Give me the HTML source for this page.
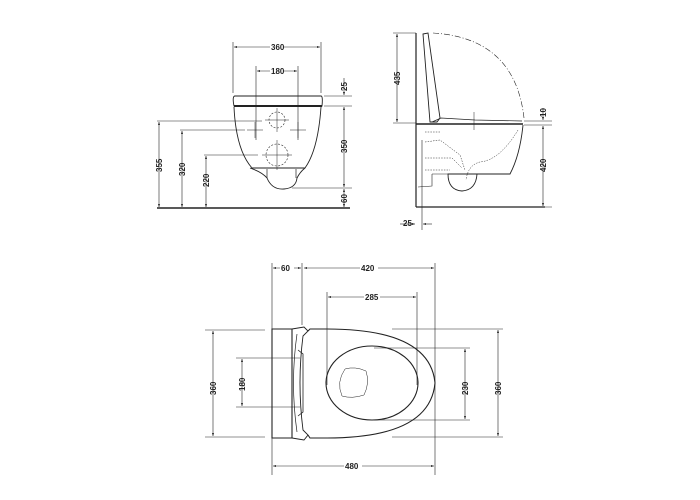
<!DOCTYPE html>
<html><head><meta charset="utf-8"><style>
html,body{margin:0;padding:0;background:#fff;}
svg{display:block}
text{font-family:"Liberation Sans",sans-serif;font-size:8px;fill:#222;font-weight:bold;}
</style></head><body>
<svg width="700" height="500" viewBox="0 0 700 500" xmlns="http://www.w3.org/2000/svg">
<defs>
<marker id="a" viewBox="0 0 10 10" refX="10" refY="5" markerWidth="5" markerHeight="5" orient="auto-start-reverse"><path d="M0,1.5 L10,5 L0,8.5z" fill="#222"/></marker>
</defs>
<g stroke="#222" fill="none" stroke-width="0.6">
<line x1="233" y1="42" x2="233" y2="93"/><line x1="321" y1="42" x2="321" y2="93"/>
<line x1="234" y1="47" x2="320" y2="47" marker-start="url(#a)" marker-end="url(#a)"/>
<line x1="256" y1="66" x2="256" y2="140"/><line x1="298" y1="66" x2="298" y2="140"/>
<line x1="257" y1="71" x2="297" y2="71" marker-start="url(#a)" marker-end="url(#a)"/>
<path d="M235,96 L321,96 Q323,96 322,106 L234,106 Q232,96 235,96z" stroke-width="0.9"/>
<line x1="234" y1="106" x2="322" y2="106" stroke-width="2"/>
<path d="M234,107 Q236,150 252,168 L305,168 Q318,150 321,107" stroke-width="0.9"/>
<path d="M250,168 Q262,172 267,178 Q272,190 284,189 Q296,188 297,178 Q300,172 305,168" stroke-width="0.9"/>
<path d="M267,169 L267,178 M296,169 L296,178" stroke-width="0.7"/>
<line x1="324" y1="96" x2="352" y2="96"/><line x1="324" y1="106" x2="352" y2="106"/>
<line x1="292" y1="188" x2="352" y2="188"/>
<line x1="344" y1="78" x2="344" y2="95" marker-end="url(#a)"/>
<line x1="344" y1="107" x2="344" y2="187" marker-start="url(#a)" marker-end="url(#a)"/>
<line x1="344" y1="189" x2="344" y2="207" marker-start="url(#a)" marker-end="url(#a)"/>
<line x1="157" y1="208" x2="350" y2="208" stroke-width="1.6"/>
<line x1="157" y1="121" x2="262" y2="121"/><line x1="180" y1="130" x2="245" y2="130"/><line x1="204" y1="155" x2="258" y2="155"/>
<line x1="159" y1="122" x2="159" y2="207" marker-start="url(#a)" marker-end="url(#a)"/>
<line x1="182" y1="131" x2="182" y2="207" marker-start="url(#a)" marker-end="url(#a)"/>
<line x1="206" y1="156" x2="206" y2="207" marker-start="url(#a)" marker-end="url(#a)"/>
<g stroke-dasharray="2,1.5"><circle cx="277" cy="120" r="8"/><circle cx="277" cy="155" r="11"/></g>
<path d="M265,120 H289 M277,108 V132 M262,155 H292 M277,140 V170 M247,130 H263 M255,122 V138 M290,130 H306 M298,122 V138" stroke-width="0.5"/>
<line x1="416" y1="33" x2="416" y2="207" stroke-width="1.2"/>
<line x1="416" y1="207" x2="545" y2="207" stroke-width="1.2"/>
<line x1="393" y1="33" x2="416" y2="33"/><line x1="393" y1="123" x2="416" y2="123"/>
<line x1="397" y1="34" x2="397" y2="122" marker-start="url(#a)" marker-end="url(#a)"/>
<path d="M423,34 L428,33 L440,118 L437,122 L430,122z" stroke-width="0.9"/>
<path d="M432,122 L441,118 L475,120 L522,121" stroke-width="0.7"/>
<path d="M433,33 Q515,38 524,118" stroke-dasharray="6,2,1,2"/>
<line x1="416" y1="124" x2="523" y2="124" stroke-width="1.6"/>
<path d="M523,125 Q520,155 510,174 L448,174 Q448,190 462,191 Q476,190 477,174" stroke-width="0.9"/>
<path d="M432,174 L448,174 M432,174 L432,186 L418,187"/>
<path d="M425,132 L440,132 M425,142 L440,140 L460,155 L465,170 M425,158 L452,158 L462,168 M425,170 L450,170 M518,130 Q500,160 480,162 Q468,165 466,180" stroke-dasharray="1.5,1.2" stroke-width="0.5"/>
<line x1="474" y1="112" x2="474" y2="130" stroke-width="0.5"/>
<line x1="524" y1="121" x2="552" y2="121"/><line x1="524" y1="125" x2="552" y2="125"/><line x1="520" y1="207" x2="552" y2="207"/>
<line x1="543" y1="108" x2="543" y2="120" marker-end="url(#a)"/>
<line x1="543" y1="126" x2="543" y2="206" marker-start="url(#a)" marker-end="url(#a)"/>
<line x1="422" y1="140" x2="422" y2="230"/>
<line x1="400" y1="224" x2="415" y2="224" marker-end="url(#a)"/><line x1="432" y1="224" x2="423" y2="224" marker-end="url(#a)"/>
<line x1="272" y1="263" x2="272" y2="475"/><line x1="302" y1="263" x2="302" y2="325"/><line x1="435" y1="263" x2="435" y2="475"/>
<line x1="273" y1="268" x2="301" y2="268" marker-start="url(#a)" marker-end="url(#a)"/>
<line x1="304" y1="268" x2="434" y2="268" marker-start="url(#a)" marker-end="url(#a)"/>
<line x1="327" y1="292" x2="327" y2="385"/><line x1="417" y1="292" x2="417" y2="385"/>
<line x1="328" y1="297" x2="416" y2="297" marker-start="url(#a)" marker-end="url(#a)"/>
<line x1="273" y1="466" x2="434" y2="466" marker-start="url(#a)" marker-end="url(#a)"/>
<path d="M272,329 L292,329 L292,438 L272,438z" stroke-width="1.1"/>
<path d="M292,329 L304,327 L308,331 L303,336 Q297,383 303,430 L308,435 L304,440 L292,438" stroke-width="0.9"/>
<path d="M297,334 Q290,383 297,432" stroke-width="0.7"/>
<path d="M298,350 L303,354 L303,412 L298,416" stroke-width="0.8"/>
<path d="M308,331 L310,329 L327,329 Q430,329 435,383 Q430,438 327,438 L310,438 L308,435" stroke-width="1.1"/>
<ellipse cx="372" cy="383" rx="46" ry="37" stroke-width="1.1"/>
<path d="M345,369 Q355,366 366,371 Q370,383 364,395 Q352,399 342,396 Q336,382 345,369z" stroke-width="0.5"/>
<line x1="205" y1="330" x2="265" y2="330"/><line x1="205" y1="437" x2="265" y2="437"/>
<line x1="213" y1="331" x2="213" y2="436" marker-start="url(#a)" marker-end="url(#a)"/>
<line x1="236" y1="358" x2="300" y2="358"/><line x1="236" y1="407" x2="300" y2="407"/>
<line x1="242" y1="359" x2="242" y2="406" marker-start="url(#a)" marker-end="url(#a)"/>
<line x1="374" y1="348" x2="470" y2="348"/><line x1="374" y1="420" x2="470" y2="420"/>
<line x1="465" y1="349" x2="465" y2="419" marker-start="url(#a)" marker-end="url(#a)"/>
<line x1="392" y1="329" x2="503" y2="329"/><line x1="392" y1="437" x2="503" y2="437"/>
<line x1="498" y1="330" x2="498" y2="436" marker-start="url(#a)" marker-end="url(#a)"/>
</g>
<g stroke="none">
<rect x="270" y="43" width="14" height="8" fill="#fff"/><text x="271" y="50" font-size="6">360</text>
<rect x="270" y="67" width="14" height="8" fill="#fff"/><text x="271" y="74" font-size="6">180</text>
<g font-size="6">
<text transform="translate(347,91) rotate(-90)">25</text>
<text transform="translate(347,153) rotate(-90)">350</text>
<text transform="translate(347,203) rotate(-90)">60</text>
<text transform="translate(162,172) rotate(-90)">355</text>
<text transform="translate(185,176) rotate(-90)">320</text>
<text transform="translate(209,187) rotate(-90)">220</text>
<text transform="translate(400,85) rotate(-90)">435</text>
<text transform="translate(546,117) rotate(-90)">10</text>
<text transform="translate(546,172) rotate(-90)">420</text>
<text x="403" y="226">25</text>
</g>
<g font-size="8.5">
<rect x="280" y="264" width="14" height="9" fill="#fff"/><text x="281" y="271">60</text>
<rect x="360" y="264" width="18" height="9" fill="#fff"/><text x="361" y="271">420</text>
<rect x="364" y="293" width="16" height="9" fill="#fff"/><text x="365" y="300">285</text>
<rect x="344" y="462" width="18" height="9" fill="#fff"/><text x="345" y="469">480</text>
<text transform="translate(216,395) rotate(-90)">360</text>
<text transform="translate(245,391) rotate(-90)">180</text>
<text transform="translate(468,395) rotate(-90)">230</text>
<text transform="translate(501,395) rotate(-90)">360</text>
</g>
</g>
</svg>
</body></html>
